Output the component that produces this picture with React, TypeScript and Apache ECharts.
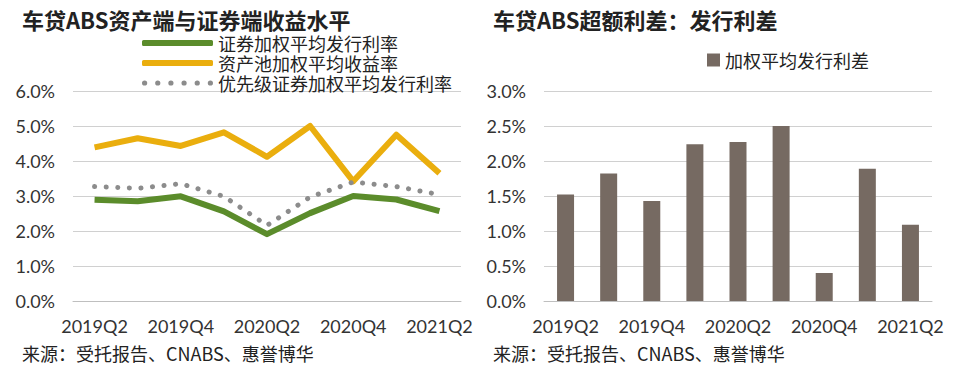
import React, { useEffect, useRef } from "react";
import * as echarts from "echarts";

const categories = ["2019Q2", "2019Q3", "2019Q4", "2020Q1", "2020Q2", "2020Q3", "2020Q4", "2021Q1", "2021Q2"];
const securityRate = [2.89, 2.85, 2.99, 2.56, 1.91, 2.51, 3.0, 2.9, 2.57];
const poolYield = [4.39, 4.65, 4.43, 4.82, 4.12, 5.0, 3.42, 4.75, 3.65];
const seniorRate = [3.27, 3.22, 3.35, 2.99, 2.16, 2.97, 3.4, 3.27, 3.04];
const spread = [1.52, 1.82, 1.43, 2.24, 2.27, 2.5, 0.4, 1.89, 1.09];

const leftTitle = "车贷ABS资产端与证券端收益水平";
const rightTitle = "车贷ABS超额利差：发行利差";
const sourceText = "来源：受托报告、CNABS、惠誉博华";
const seriesNames = ["证券加权平均发行利率", "资产池加权平均收益率", "优先级证券加权平均发行利率", "加权平均发行利差"];

const FONT = "Lato, 'Noto Sans CJK SC', sans-serif";
const CJK = "'Noto Sans CJK SC', Lato, sans-serif";

function dotsPath(): string {
  const r = 2.5;
  const n = 6;
  const step = 12.6;
  let d = "path://";
  for (let i = 0; i < n; i++) {
    const cx = r + i * step;
    d += `M${cx - r},${r}a${r},${r} 0 1,0 ${2 * r},0a${r},${r} 0 1,0 ${-2 * r},0Z`;
  }
  return d;
}

export default function App() {
  const ref = useRef<HTMLDivElement>(null);
  useEffect(() => {
    document.body.style.margin = "0";
    const chart = echarts.init(ref.current!, null, { renderer: "svg" });
    const axisLabel = { color: "#333", fontSize: 18, fontFamily: FONT };
    const xAxisCommon = {
      type: "category",
      data: categories,
      boundaryGap: true,
      axisLine: { lineStyle: { color: "#BFBFBF", width: 1 } },
      axisTick: { show: false },
      axisLabel: { ...axisLabel, interval: 1, margin: 16 },
    };
    const yAxisCommon = {
      type: "value",
      min: 0,
      axisLine: { show: false },
      axisTick: { show: false },
      splitLine: { lineStyle: { color: "#D0D0D0", width: 1 } },
      axisLabel: { ...axisLabel, fontSize: 18, margin: 18, formatter: (v: number) => v.toFixed(1) + "%" },
    };
    chart.setOption({
      animation: false,
      backgroundColor: "#fff",
      textStyle: { fontFamily: FONT },
      grid: [
        { left: 73, right: 501, top: 91, bottom: 78 },
        { left: 544, right: 30, top: 91, bottom: 78 },
      ],
      xAxis: [
        { ...xAxisCommon, gridIndex: 0 },
        { ...xAxisCommon, gridIndex: 1 },
      ],
      yAxis: [
        { ...yAxisCommon, gridIndex: 0, max: 6, interval: 1 },
        { ...yAxisCommon, gridIndex: 1, max: 3, interval: 0.5 },
      ],
      legend: [
        {
          data: [
            { name: seriesNames[0], icon: "roundRect" },
            { name: seriesNames[1], icon: "roundRect" },
            { name: seriesNames[2], icon: dotsPath() },
          ],
          orient: "vertical",
          left: 142,
          top: 34,
          itemWidth: 71,
          itemHeight: 6,
          itemGap: 2,
          padding: 0,
          textStyle: { fontSize: 18, lineHeight: 18, color: "#222", fontFamily: CJK },
        },
        {
          data: [{ name: seriesNames[3], icon: "rect" }],
          left: 707,
          top: 51,
          itemWidth: 13,
          itemHeight: 13,
          itemGap: 4,
          padding: 0,
          textStyle: { fontSize: 18, lineHeight: 18, color: "#222", fontFamily: CJK },
        },
      ],
      graphic: [
        { type: "text", left: 22, top: 8, style: { text: leftTitle, font: "bold 22px 'Noto Sans CJK SC', sans-serif", fill: "#222" } },
        { type: "text", left: 493, top: 8, style: { text: rightTitle, font: "bold 22px 'Noto Sans CJK SC', sans-serif", fill: "#222" } },
        { type: "text", left: 22, top: 344, style: { text: sourceText, font: "18px 'Noto Sans CJK SC', Lato, sans-serif", fill: "#222" } },
        { type: "text", left: 493, top: 344, style: { text: sourceText, font: "18px 'Noto Sans CJK SC', Lato, sans-serif", fill: "#222" } },
      ],
      series: [
        {
          name: seriesNames[0],
          type: "line",
          xAxisIndex: 0,
          yAxisIndex: 0,
          data: securityRate,
          symbol: "none",
          color: "#5B8C2B",
          itemStyle: { color: "#5B8C2B" },
          lineStyle: { color: "#5B8C2B", width: 6, join: "round" },
          z: 3,
        },
        {
          name: seriesNames[1],
          type: "line",
          xAxisIndex: 0,
          yAxisIndex: 0,
          data: poolYield,
          symbol: "none",
          color: "#EAAE0E",
          itemStyle: { color: "#EAAE0E" },
          lineStyle: { color: "#EAAE0E", width: 6, join: "round" },
          z: 2,
        },
        {
          name: seriesNames[2],
          type: "line",
          xAxisIndex: 0,
          yAxisIndex: 0,
          data: seniorRate,
          symbol: "none",
          color: "#8C8C8C",
          itemStyle: { color: "#8C8C8C" },
          lineStyle: { color: "#8C8C8C", width: 5, type: [0.1, 11.5], cap: "round" },
          z: 4,
        },
        {
          name: seriesNames[3],
          type: "bar",
          xAxisIndex: 1,
          yAxisIndex: 1,
          data: spread,
          barWidth: 17,
          itemStyle: { color: "#766A62" },
        },
      ],
    });
    return () => chart.dispose();
  }, []);
  return <div ref={ref} style={{ width: 962, height: 379 }} />;
}
